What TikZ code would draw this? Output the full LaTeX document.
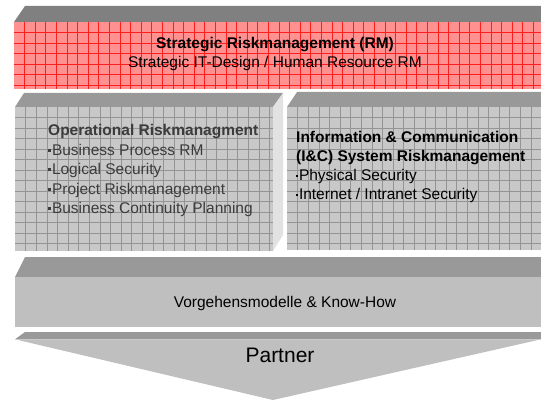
\documentclass[tikz,border=0pt]{standalone}
\usepackage{fontspec}
\setmainfont{Liberation Sans}
\definecolor{redfill}{RGB}{255,145,145}
\definecolor{redline}{RGB}{255,30,30}
\definecolor{grayfill}{RGB}{200,200,200}
\definecolor{grayline}{RGB}{148,148,148}
\definecolor{topdark}{RGB}{128,128,128}
\definecolor{topmid}{RGB}{153,153,153}
\definecolor{sideface}{RGB}{226,226,226}
\definecolor{plainfront}{RGB}{191,191,191}
\definecolor{softtext}{RGB}{60,60,60}
\newcommand\gridfront[6]{%
  \begin{scope}
    \clip (#1,#2) rectangle (#3,#4);
    \fill[#5] (#1,#2) rectangle (#3,#4);
    \foreach \i in {1,...,50} \draw[#6] ({#1+\i*10.6},#2) -- ({#1+\i*10.6},#4);
    \foreach \j in {1,...,15} \draw[#6] (#1,{#2+\j*10.5}) -- (#3,{#2+\j*10.5});
  \end{scope}}
\newcommand\bigsq{\rule[3.3pt]{3pt}{3pt}\hspace{0.8pt}}
\newcommand\smallsq{\rule[3.6pt]{2pt}{2pt}\hspace{0.8pt}}
\newcommand\topstrut{\rule{0pt}{12pt}}
\tikzset{
  txt/.style={inner sep=0pt, font=\fontsize{15.5}{19.5}\selectfont},
}
\begin{document}
\begin{tikzpicture}[x=1pt,y=-1pt]
\useasboundingbox (0,0) rectangle (541,401);
% top band
\fill[topdark] (25,6) -- (541,6) -- (541,22) -- (14,22) -- cycle;
\gridfront{14}{22}{541}{89}{redfill}{redline, line width=0.7pt}
% middle left box
\fill[topmid] (24,93) -- (283,93) -- (273,107) -- (15,107) -- cycle;
\fill[sideface] (273,107) -- (283,93) -- (283,235) -- (273,251) -- cycle;
\gridfront{15}{107}{273}{251}{grayfill}{grayline, line width=0.55pt}
% middle right box
\fill[topmid] (297,92) -- (541,92) -- (541,107) -- (287,107) -- cycle;
\gridfront{287}{107}{541}{250}{grayfill}{grayline, line width=0.55pt}
% bottom band
\fill[topmid] (25,257) -- (541,257) -- (541,277) -- (15,277) -- cycle;
\fill[plainfront] (15,277) rectangle (541,327);
% partner arrow
\fill[topmid] (25,332) -- (541,332) -- (541,339.3) -- (15,339.3) -- cycle;
\fill[plainfront] (15,339.3) -- (541,339.3) -- (273,400) -- cycle;
% texts
\node[txt, align=center, anchor=north] (strat) at (275,36.2)
  {\topstrut\textbf{Strategic Riskmanagement (RM)}\\Strategic IT-Design / Human Resource RM};
\node[txt, align=left, anchor=north west, text=softtext] (oper) at (48,123.5)
  {\topstrut\textbf{Operational Riskmanagment}\\\bigsq Business Process RM\\\bigsq Logical Security\\\bigsq Project Riskmanagement\\\bigsq Business Continuity Planning};
\node[txt, align=left, anchor=north west, font=\fontsize{15.5}{19}\selectfont] (info) at (296,130.5)
  {\topstrut\textbf{Information \& Communication}\\\textbf{(I\&C) System Riskmanagement}\\\smallsq Physical Security\\\smallsq Internet / Intranet Security};
\node[txt, anchor=base] (vorg) at (285,307.5) {Vorgehensmodelle \& Know-How};
\node[txt, anchor=base, font=\fontsize{21}{25}\selectfont] (partner) at (280,362.5) {Partner};
\end{tikzpicture}
\end{document}
